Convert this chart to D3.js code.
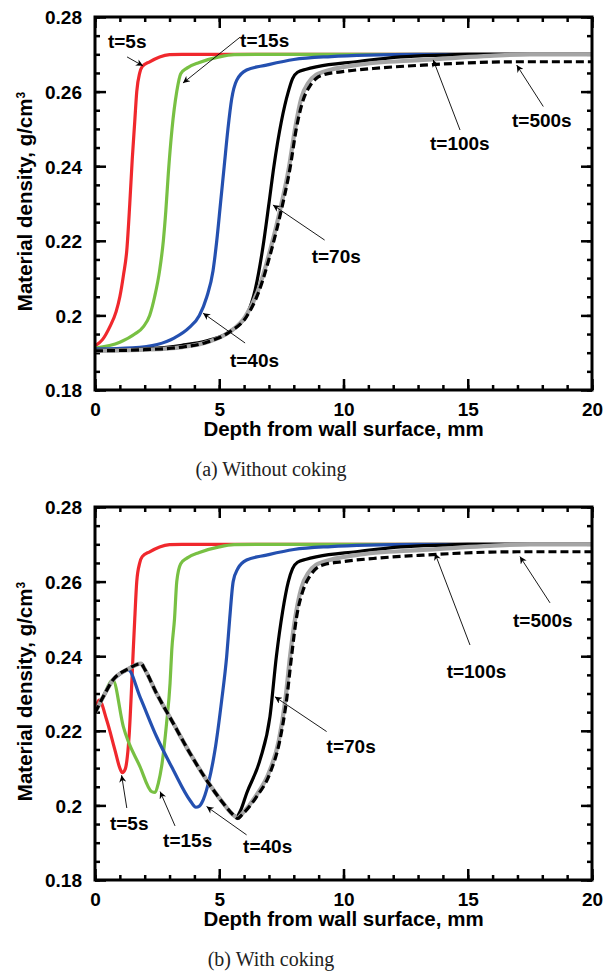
<!DOCTYPE html>
<html>
<head>
<meta charset="utf-8">
<script src="https://cdnjs.cloudflare.com/ajax/libs/d3/7.8.5/d3.min.js"></script>
<style>
body { margin: 0; background: #fff; }
svg text { font-family: "Liberation Sans", Arial, sans-serif; font-weight: bold; fill: #000; }
svg text.caption { font-family: "Liberation Serif", "Times New Roman", serif; font-weight: normal; fill: #222; }
</style>
</head>
<body>
<svg id="main-svg" width="604" height="974"></svg>
<script>
// x: depth from wall surface (mm), y: material density (g/cm3)

// (a) Without coking
var a_t5 = [[0,0.1918],[0.3,0.1935],[0.6,0.197],[0.85,0.201],[1.0,0.205],[1.15,0.211],[1.28,0.2175],[1.4,0.23],[1.5,0.242],[1.6,0.252],[1.68,0.26],[1.8,0.265],[1.9,0.2667],[2.2,0.268],[2.6,0.2693],[3.0,0.2699],[3.5,0.27],[20,0.27]];
var a_t15 = [[0,0.1912],[1.0,0.1928],[1.6,0.195],[1.95,0.197],[2.2,0.2],[2.4,0.205],[2.6,0.212],[2.75,0.22],[2.85,0.228],[2.95,0.238],[3.1,0.25],[3.29,0.26],[3.45,0.2648],[3.7,0.2663],[4.2,0.2678],[5.0,0.2693],[5.6,0.2699],[6.5,0.27],[20,0.27]];
var a_t40 = [[0,0.191],[1.5,0.1913],[2.5,0.1922],[3.2,0.194],[3.8,0.1968],[4.2,0.2],[4.5,0.205],[4.75,0.212],[4.9,0.22],[5.05,0.23],[5.2,0.24],[5.35,0.25],[5.5,0.258],[5.7,0.263],[6.1,0.2658],[6.9,0.2671],[8.0,0.2686],[9.5,0.2694],[11,0.2698],[13,0.27],[20,0.27]];
var a_t70 = [[0,0.1906],[2,0.191],[3.5,0.192],[4.5,0.1932],[5.2,0.1948],[5.7,0.197],[6.1,0.2],[6.45,0.207],[6.75,0.218],[7.0,0.23],[7.2,0.24],[7.5,0.252],[7.78,0.26],[7.95,0.2635],[8.15,0.2652],[8.5,0.266],[8.95,0.2667],[10.5,0.268],[12.3,0.2693],[14,0.2698],[15,0.27],[20,0.27]];
var a_t100 = [[0,0.1905],[2,0.1908],[3.5,0.1915],[4.5,0.1928],[5.4,0.1955],[6.05,0.1997],[6.55,0.2065],[7.05,0.2175],[7.45,0.2283],[7.8,0.2395],[8.05,0.25],[8.3,0.2582],[8.6,0.2625],[8.9,0.2645],[9.2,0.2653],[10.5,0.2671],[13.2,0.2685],[15.9,0.2696],[17.5,0.27],[20,0.27]];
var a_t500 = [[0,0.1905],[2,0.1908],[3.5,0.1915],[4.5,0.1928],[5.4,0.1955],[6.1,0.1997],[6.6,0.2065],[7.1,0.2175],[7.5,0.2283],[7.85,0.2395],[8.1,0.25],[8.38,0.2578],[8.65,0.2615],[8.9,0.2635],[9.2,0.2645],[9.9,0.2653],[11.2,0.2662],[13.2,0.2671],[15.9,0.2679],[17,0.268],[20,0.268]];

// (b) With coking
var b_t5 = [[0,0.2248],[0.17,0.2282],[0.47,0.2229],[0.8,0.2149],[1.0,0.21],[1.1,0.2088],[1.22,0.2098],[1.3,0.213],[1.38,0.2194],[1.48,0.2328],[1.54,0.2417],[1.6,0.25],[1.68,0.26],[1.8,0.265],[1.9,0.2667],[2.2,0.268],[2.6,0.2693],[3.0,0.2699],[3.5,0.27],[20,0.27]];
var b_t15 = [[0,0.2248],[0.33,0.2291],[0.72,0.2336],[1.14,0.2211],[1.81,0.2104],[2.28,0.2037],[2.42,0.2035],[2.55,0.206],[2.68,0.2104],[2.88,0.222],[3.02,0.2327],[3.09,0.2417],[3.2,0.25],[3.29,0.26],[3.45,0.2648],[3.7,0.2663],[4.2,0.2678],[5.0,0.2693],[5.6,0.2699],[6.5,0.27],[20,0.27]];
var b_t40 = [[0,0.2248],[0.33,0.2291],[0.72,0.2336],[1.0,0.2352],[1.34,0.2363],[1.81,0.2291],[2.48,0.2184],[3.15,0.2095],[3.82,0.2014],[4.06,0.1995],[4.2,0.1998],[4.29,0.2006],[4.56,0.2059],[4.83,0.2149],[5.1,0.2283],[5.3,0.24],[5.42,0.25],[5.56,0.26],[5.75,0.2635],[6.1,0.2658],[6.9,0.2671],[8.0,0.2686],[9.5,0.2694],[11,0.2698],[13,0.27],[20,0.27]];
var b_t70 = [[0,0.2248],[0.33,0.2291],[0.72,0.2336],[1.34,0.2366],[1.85,0.238],[2.0,0.2365],[2.48,0.23],[3.15,0.222],[3.82,0.214],[4.49,0.2068],[5.16,0.2006],[5.57,0.1974],[5.7,0.197],[5.85,0.1985],[6.1,0.2032],[6.64,0.2122],[7.04,0.2238],[7.3,0.24],[7.55,0.252],[7.78,0.26],[7.95,0.2635],[8.15,0.2652],[8.5,0.266],[8.95,0.2667],[10.5,0.268],[12.3,0.2693],[14,0.2698],[15,0.27],[20,0.27]];
var b_t100 = [[0,0.2248],[0.33,0.2291],[0.72,0.2336],[1.34,0.2366],[1.85,0.238],[2.0,0.2365],[2.48,0.23],[3.15,0.222],[3.82,0.214],[4.49,0.2068],[5.16,0.2006],[5.57,0.1974],[5.75,0.1966],[5.9,0.1976],[6.45,0.2023],[7.0,0.2088],[7.4,0.2175],[7.66,0.2283],[7.85,0.24],[8.05,0.25],[8.3,0.2582],[8.6,0.2625],[8.9,0.2645],[9.2,0.2653],[10.5,0.2671],[13.2,0.2685],[15.9,0.2696],[17.5,0.27],[20,0.27]];
var b_t500 = [[0,0.2248],[0.33,0.2291],[0.72,0.2336],[1.34,0.2366],[1.85,0.238],[2.0,0.2365],[2.48,0.23],[3.15,0.222],[3.82,0.214],[4.49,0.2068],[5.16,0.2006],[5.57,0.1974],[5.75,0.1965],[5.9,0.1974],[6.5,0.2023],[7.04,0.2086],[7.44,0.2175],[7.71,0.2283],[7.91,0.24],[8.1,0.25],[8.38,0.2578],[8.65,0.2615],[8.9,0.2635],[9.2,0.2645],[9.9,0.2653],[11.2,0.2662],[13.2,0.2671],[15.9,0.2679],[17,0.268],[20,0.268]];

var seriesNames = ['t=5s', 't=15s', 't=40s', 't=70s', 't=100s', 't=500s'];

// label: [text x, text y, arrow tail x, arrow tail y, arrow head x, arrow head y] in data units
var a_labels = [[0.52,0.2717, 1.29,0.2693, 1.93,0.2669],
                [5.84,0.272, 5.84,0.2746, 3.54,0.2623],
                [5.43,0.1862, 6.04,0.1926, 4.35,0.2006],
                [8.72,0.214, 9.24,0.2202, 7.16,0.2296],
                [13.48,0.2443, 14.69,0.2497, 13.61,0.2685],
                [16.78,0.2505, 18.04,0.256, 16.97,0.2671]];
var b_labels = [[0.6,0.1934, 1.28,0.1993, 1.07,0.2081],
                [2.74,0.1889, 3.22,0.1945, 2.62,0.2037],
                [5.96,0.1872, 6.1,0.1921, 4.49,0.1997],
                [9.32,0.214, 9.32,0.2198, 7.24,0.2291],
                [14.15,0.2342, 15.09,0.243, 13.68,0.2676],
                [16.82,0.2478, 18.31,0.2543, 17.1,0.2667]];

var xMajor = [0, 5, 10, 15, 20];
var yMajor = [0.18, 0.2, 0.22, 0.24, 0.26, 0.28];

var colors = ['#f0282d', '#78c043', '#2450b0', '#000000', '#a5a5a5', '#000000'];

var svg = d3.select('#main-svg');

svg.append('defs').append('marker')
    .attr('id', 'arr')
    .attr('viewBox', '0 0 10 10')
    .attr('refX', 10).attr('refY', 5)
    .attr('markerWidth', 9).attr('markerHeight', 7)
    .attr('markerUnits', 'userSpaceOnUse')
    .attr('orient', 'auto')
    .append('path').attr('d', 'M0,0 L10,5 L0,10 L3,5 z').attr('fill', '#000');

var W = 497, H = 373;

function drawPanel(top, series, labels, caption) {
    var g = svg.append('g').attr('transform', 'translate(95,' + top + ')');
    var x = d3.scaleLinear().domain([0, 20]).range([0, W]);
    var y = d3.scaleLinear().domain([0.18, 0.28]).range([H, 0]);

    var yfmt = function(d) { return String(+d.toFixed(2)); };

    // minor ticks (inward, all four sides)
    var xMinor = d3.range(0, 21, 1), yMinor = d3.range(0.18, 0.2801, 0.005);
    g.append('g').attr('transform', 'translate(0,' + H + ')')
        .call(d3.axisBottom(x).tickValues(xMinor).tickSize(-5).tickFormat(''));
    g.append('g').call(d3.axisTop(x).tickValues(xMinor).tickSize(-5).tickFormat(''));
    g.append('g').call(d3.axisLeft(y).tickValues(yMinor).tickSize(-5).tickFormat(''));
    g.append('g').attr('transform', 'translate(' + W + ',0)')
        .call(d3.axisRight(y).tickValues(yMinor).tickSize(-5).tickFormat(''));

    // major ticks
    g.append('g').attr('class', 'xaxis').attr('transform', 'translate(0,' + H + ')')
        .call(d3.axisBottom(x).tickValues(xMajor).tickSize(-11).tickPadding(13));
    g.append('g').call(d3.axisTop(x).tickValues(xMajor).tickSize(-11).tickFormat(''));
    g.append('g').attr('class', 'yaxis')
        .call(d3.axisLeft(y).tickValues(yMajor).tickSize(-11).tickPadding(13).tickFormat(yfmt));
    g.append('g').attr('transform', 'translate(' + W + ',0)')
        .call(d3.axisRight(y).tickValues(yMajor).tickSize(-11).tickFormat(''));

    g.selectAll('.domain').remove();
    g.selectAll('.tick line').attr('stroke', '#000').attr('stroke-width', 2.5);
    g.selectAll('.tick text').style('font-size', '19px').attr('fill', '#000');
    g.selectAll('.yaxis .tick text').attr('dy', '0.36em');

    // curves
    var line = d3.line()
        .x(function(d) { return x(d[0]); })
        .y(function(d) { return y(d[1]); })
        .curve(d3.curveMonotoneX);

    var clip = 'clip' + top;
    g.append('clipPath').attr('id', clip).append('rect')
        .attr('width', W).attr('height', H);
    var lines = g.append('g').attr('clip-path', 'url(#' + clip + ')');

    series.forEach(function(s, i) {
        var p = lines.append('path')
            .datum(s)
            .attr('d', line)
            .attr('fill', 'none')
            .attr('stroke', colors[i])
            .attr('stroke-width', i == 4 ? 4.2 : 3.2)
            .attr('stroke-linejoin', 'round');
        if (i == 5) p.attr('stroke-dasharray', '8,4');
    });

    // frame
    g.append('rect')
        .attr('width', W).attr('height', H)
        .attr('fill', 'none').attr('stroke', '#000').attr('stroke-width', 3);

    // annotations
    labels.forEach(function(l, i) {
        g.append('line')
            .attr('x1', x(l[2])).attr('y1', y(l[3]))
            .attr('x2', x(l[4])).attr('y2', y(l[5]))
            .attr('stroke', '#000').attr('stroke-width', 0.9)
            .attr('marker-end', 'url(#arr)');
        g.append('text')
            .attr('x', x(l[0])).attr('y', y(l[1]))
            .style('font-size', '19px')
            .text(seriesNames[i]);
    });

    // axis titles
    g.append('text')
        .attr('x', W / 2).attr('y', H + 46)
        .attr('text-anchor', 'middle')
        .style('font-size', '20.5px')
        .text('Depth from wall surface, mm');

    var yt = g.append('text')
        .attr('transform', 'translate(-63,' + (H / 2 - 2) + ') rotate(-90)')
        .attr('text-anchor', 'middle')
        .style('font-size', '20.5px');
    yt.append('tspan').text('Material density, g/cm');
    yt.append('tspan').attr('dy', '-0.55em').style('font-size', '12px').text('3');

    svg.append('text')
        .attr('class', 'caption')
        .attr('x', 271).attr('y', top + H + 86)
        .attr('text-anchor', 'middle')
        .style('font-size', '20px')
        .text(caption);
}

drawPanel(17, [a_t5, a_t15, a_t40, a_t70, a_t100, a_t500], a_labels, '(a) Without coking');
drawPanel(507, [b_t5, b_t15, b_t40, b_t70, b_t100, b_t500], b_labels, '(b) With coking');
</script>
</body>
</html>
